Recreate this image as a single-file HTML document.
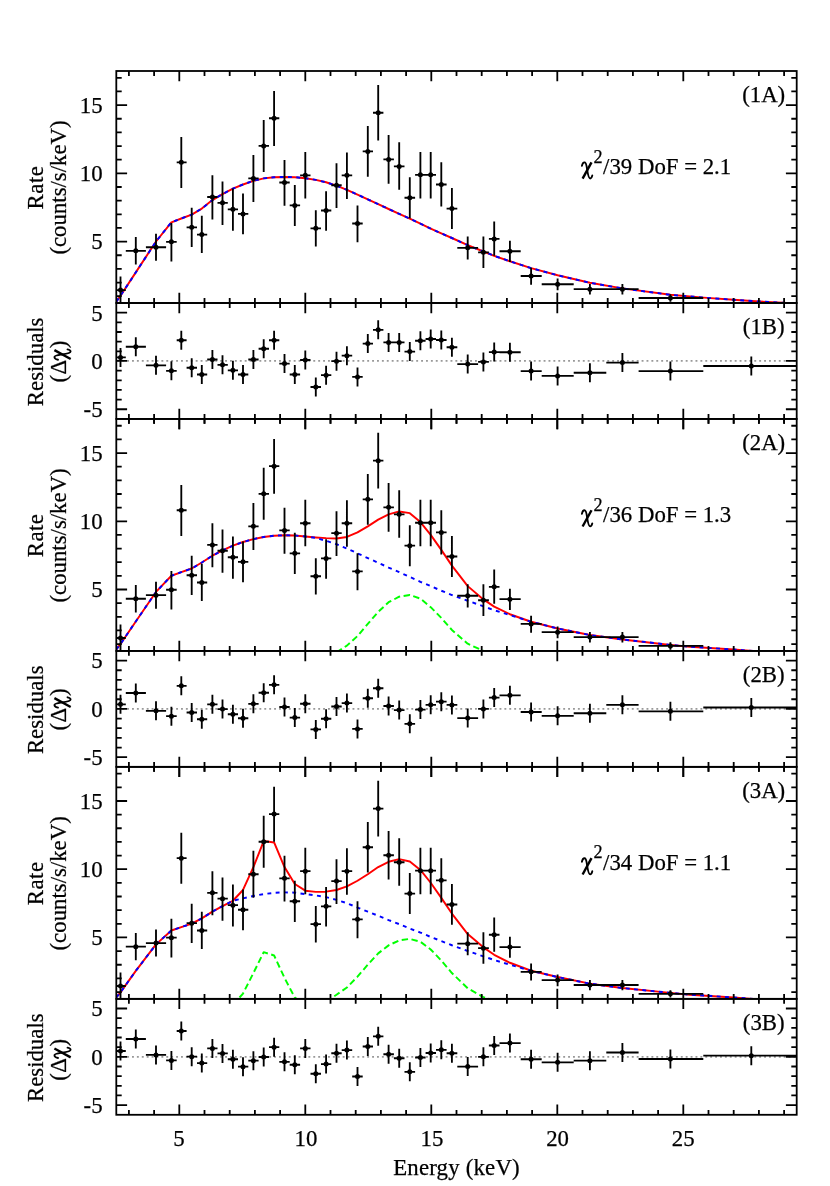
<!DOCTYPE html>
<html><head><meta charset="utf-8"><title>Spectral fits</title>
<style>
html,body{margin:0;padding:0;background:#fff}
svg{display:block;will-change:transform}
text{font-family:"Liberation Serif",serif;font-size:22.8px;fill:#000;stroke:#000;stroke-width:0.25px}
</style></head><body>
<svg width="830" height="1186" viewBox="0 0 830 1186">
<rect width="830" height="1186" fill="#fff"/>
<defs>
<clipPath id="cm0"><rect x="116.3" y="71" width="680.4" height="232"/></clipPath>
<clipPath id="cm1"><rect x="116.3" y="418.93" width="680.4" height="232"/></clipPath>
<clipPath id="cm2"><rect x="116.3" y="766.86" width="680.4" height="232"/></clipPath>
</defs>
<g clip-path="url(#cm0)">
<polyline points="116.3,301.6 120.5,295.7 135.8,272.4 156,241.5 171.4,222.3 181.3,218.5 191.7,214.6 201.8,208.6 212.4,200.1 222.5,194.1 232.9,188.6 243,184.5 253.4,180.8 263.7,178.4 274.1,177.2 284.5,177 294.8,177.2 305.3,178.2 315.8,179.9 326.1,182.3 336.5,185.7 346.9,189.8 357.5,194.6 367.8,199.4 378.2,204.2 388.6,209 399.2,213.9 409.8,218.7 420.4,223.7 430.7,228.6 441.3,233.4 451.9,238 467.7,245.2 483.4,251.5 494.2,255.8 509.9,261.3 531.1,268.1 557.6,275.3 589.9,282.8 622.4,288.4 670.4,294.8 703.6,297.6 733.7,299.8 758.9,301.5 782.8,302.7 796.7,303.6" fill="none" stroke="#f00" stroke-width="1.95" stroke-linejoin="round"/>
<polyline points="116.3,301.6 120.5,295.7 135.8,272.4 156,241.5 171.4,222.3 181.3,218.5 191.7,214.6 201.8,208.6 212.4,200.1 222.5,194.1 232.9,188.6 243,184.5 253.4,180.8 263.7,178.4 274.1,177.2 284.5,177 294.8,177.2 305.3,178.2 315.8,179.9 326.1,182.3 336.5,185.7 346.9,189.8 357.5,194.6 367.8,199.4 378.2,204.2 388.6,209 399.2,213.9 409.8,218.7 420.4,223.7 430.7,228.6 441.3,233.4 451.9,238 467.7,245.2 483.4,251.5 494.2,255.8 509.9,261.3 531.1,268.1 557.6,275.3 589.9,282.8 622.4,288.4 670.4,294.8 703.6,297.6 733.7,299.8 758.9,301.5 782.8,302.7 796.7,303.6" fill="none" stroke="#00f" stroke-width="1.95" stroke-dasharray="3.9 4.4" stroke-linejoin="round"/>
<path d="M120.5 276.6V303.6M116.3 290.1H125.8M135.8 237.1V264.5M125.8 250.8H145.9M156 233.7V260.7M145.9 247.2H166.1M171.4 223V261.6M166.1 241.8H176.7M181.3 137V188M176.7 162.3H186.6M191.7 207.8V247.1M186.6 227.3H197M201.8 215.8V253.1M197 234.6H207.2M212.4 175.3V219.4M207.2 197H217.5M222.5 181.6V224.9M217.5 202.8H227.8M232.9 188.6V230.7M227.8 209.3H238M243 193.6V234.3M238 213.9H248.3M253.4 155V202M248.3 178.4H258.6M263.7 119.9V171.9M258.6 145.9H269M274.1 91V145.9M269 118.2H279.3M284.5 159.9V205.7M279.3 182.5H289.7M294.8 184.9V226.1M289.7 205.4H300.1M305.3 151.9V198.4M300.1 175.3H310.5M315.8 210.2V246.6M310.5 228.3H321M326.1 191.2V230.7M321 210.5H331.3M336.5 163.3V208.1M331.3 185.2H341.7M346.9 152.4V198.9M341.7 175.3H352.2M357.5 205.4V242.3M352.2 223.5H362.7M367.8 126.1V176.7M362.7 151.4H373M378.2 84.9V140.6M373 112.7H383.4M388.6 135.1V183.7M383.4 159.4H393.9M399.2 142.3V189.8M393.9 166.4H404.5M409.8 177.2V218.2M404.5 197.7H415.1M420.4 151.9V198.4M415.1 174.8H425.6M430.7 151.9V198.4M425.6 174.8H436M441.3 162.3V206.6M436 184.5H446.6M451.9 188.1V229M446.6 208.6H457.3M467.7 236.4V259.5M457.3 247.8H478.1M483.4 236.4V268M478.1 252.3H488.9M494.2 221.6V255.8M488.9 238.9H499.5M509.9 240.8V262M499.5 251.2H520.7M531.1 267.7V284.7M520.7 276H541.7M557.6 278.6V290.3M541.7 284.2H573.7M589.9 284.1V294.5M573.7 289.15H606.3M622.4 284.1V294.5M606.3 289.15H638.6M670.4 294.3V301.7M638.6 298H703.3M751.3 303.5V308.5M703.3 306H796.7" stroke="#000" stroke-width="1.85" fill="none"/>
<circle cx="120.5" cy="290.1" r="2.5"/>
<circle cx="135.8" cy="250.8" r="2.5"/>
<circle cx="156" cy="247.2" r="2.5"/>
<circle cx="171.4" cy="241.8" r="2.5"/>
<circle cx="181.3" cy="162.3" r="2.5"/>
<circle cx="191.7" cy="227.3" r="2.5"/>
<circle cx="201.8" cy="234.6" r="2.5"/>
<circle cx="212.4" cy="197" r="2.5"/>
<circle cx="222.5" cy="202.8" r="2.5"/>
<circle cx="232.9" cy="209.3" r="2.5"/>
<circle cx="243" cy="213.9" r="2.5"/>
<circle cx="253.4" cy="178.4" r="2.5"/>
<circle cx="263.7" cy="145.9" r="2.5"/>
<circle cx="274.1" cy="118.2" r="2.5"/>
<circle cx="284.5" cy="182.5" r="2.5"/>
<circle cx="294.8" cy="205.4" r="2.5"/>
<circle cx="305.3" cy="175.3" r="2.5"/>
<circle cx="315.8" cy="228.3" r="2.5"/>
<circle cx="326.1" cy="210.5" r="2.5"/>
<circle cx="336.5" cy="185.2" r="2.5"/>
<circle cx="346.9" cy="175.3" r="2.5"/>
<circle cx="357.5" cy="223.5" r="2.5"/>
<circle cx="367.8" cy="151.4" r="2.5"/>
<circle cx="378.2" cy="112.7" r="2.5"/>
<circle cx="388.6" cy="159.4" r="2.5"/>
<circle cx="399.2" cy="166.4" r="2.5"/>
<circle cx="409.8" cy="197.7" r="2.5"/>
<circle cx="420.4" cy="174.8" r="2.5"/>
<circle cx="430.7" cy="174.8" r="2.5"/>
<circle cx="441.3" cy="184.5" r="2.5"/>
<circle cx="451.9" cy="208.6" r="2.5"/>
<circle cx="467.7" cy="247.8" r="2.5"/>
<circle cx="483.4" cy="252.3" r="2.5"/>
<circle cx="494.2" cy="238.9" r="2.5"/>
<circle cx="509.9" cy="251.2" r="2.5"/>
<circle cx="531.1" cy="276" r="2.5"/>
<circle cx="557.6" cy="284.2" r="2.5"/>
<circle cx="589.9" cy="289.15" r="2.5"/>
<circle cx="622.4" cy="289.15" r="2.5"/>
<circle cx="670.4" cy="298" r="2.5"/>
<circle cx="751.3" cy="306" r="2.5"/>
</g>
<line x1="117.3" y1="360.97" x2="796.7" y2="360.97" stroke="#999" stroke-width="1.7" stroke-dasharray="1.9 3"/>
<path d="M120.5 347.89V366.89M116.3 357.39H125.8M135.8 337.26V356.26M125.8 346.76H145.9M156 355.81V374.81M145.9 365.31H166.1M171.4 361.32V380.32M166.1 370.82H176.7M181.3 330.79V349.79M176.7 340.29H186.6M191.7 358.23V377.23M186.6 367.73H197M201.8 364.99V383.99M197 374.49H207.2M212.4 350.02V369.02M207.2 359.52H217.5M222.5 355.33V374.33M217.5 364.83H227.8M232.9 360.84V379.84M227.8 370.34H238M243 364.99V383.99M238 374.49H248.3M253.4 350.02V369.02M248.3 359.52H258.6M263.7 339.2V358.2M258.6 348.7H269M274.1 330.79V349.79M269 340.29H279.3M284.5 354.07V373.07M279.3 363.57H289.7M294.8 364.99V383.99M289.7 374.49H300.1M305.3 350.5V369.5M300.1 360H310.5M315.8 377.45V396.45M310.5 386.95H321M326.1 365.67V384.67M321 375.17H331.3M336.5 351.66V370.66M331.3 361.16H341.7M346.9 346.15V365.15M341.7 355.65H352.2M357.5 367.41V386.41M352.2 376.91H362.7M367.8 334.08V353.08M362.7 343.58H373M378.2 320.36V339.36M373 329.86H383.4M388.6 332.92V351.92M383.4 342.42H393.9M399.2 332.92V351.92M393.9 342.42H404.5M409.8 342.09V361.09M404.5 351.59H415.1M420.4 331.27V350.27M415.1 340.77H425.6M430.7 329.53V348.53M425.6 339.03H436M441.3 330.5V349.5M436 340H446.6M451.9 337.75V356.75M446.6 347.25H457.3M467.7 354.56V373.56M457.3 364.06H478.1M483.4 352.43V371.43M478.1 361.93H488.9M494.2 342.58V361.58M488.9 352.08H499.5M509.9 342.77V361.77M499.5 352.27H520.7M531.1 361.61V380.61M520.7 371.11H541.7M557.6 366.44V385.44M541.7 375.94H573.7M589.9 363.25V382.25M573.7 372.75H606.3M622.4 353.11V372.11M606.3 362.61H638.6M670.4 361.61V380.61M638.6 371.11H703.3M751.3 356.49V375.49M703.3 365.99H796.7" stroke="#000" stroke-width="1.85" fill="none"/>
<circle cx="120.5" cy="357.39" r="2.5"/>
<circle cx="135.8" cy="346.76" r="2.5"/>
<circle cx="156" cy="365.31" r="2.5"/>
<circle cx="171.4" cy="370.82" r="2.5"/>
<circle cx="181.3" cy="340.29" r="2.5"/>
<circle cx="191.7" cy="367.73" r="2.5"/>
<circle cx="201.8" cy="374.49" r="2.5"/>
<circle cx="212.4" cy="359.52" r="2.5"/>
<circle cx="222.5" cy="364.83" r="2.5"/>
<circle cx="232.9" cy="370.34" r="2.5"/>
<circle cx="243" cy="374.49" r="2.5"/>
<circle cx="253.4" cy="359.52" r="2.5"/>
<circle cx="263.7" cy="348.7" r="2.5"/>
<circle cx="274.1" cy="340.29" r="2.5"/>
<circle cx="284.5" cy="363.57" r="2.5"/>
<circle cx="294.8" cy="374.49" r="2.5"/>
<circle cx="305.3" cy="360" r="2.5"/>
<circle cx="315.8" cy="386.95" r="2.5"/>
<circle cx="326.1" cy="375.17" r="2.5"/>
<circle cx="336.5" cy="361.16" r="2.5"/>
<circle cx="346.9" cy="355.65" r="2.5"/>
<circle cx="357.5" cy="376.91" r="2.5"/>
<circle cx="367.8" cy="343.58" r="2.5"/>
<circle cx="378.2" cy="329.86" r="2.5"/>
<circle cx="388.6" cy="342.42" r="2.5"/>
<circle cx="399.2" cy="342.42" r="2.5"/>
<circle cx="409.8" cy="351.59" r="2.5"/>
<circle cx="420.4" cy="340.77" r="2.5"/>
<circle cx="430.7" cy="339.03" r="2.5"/>
<circle cx="441.3" cy="340" r="2.5"/>
<circle cx="451.9" cy="347.25" r="2.5"/>
<circle cx="467.7" cy="364.06" r="2.5"/>
<circle cx="483.4" cy="361.93" r="2.5"/>
<circle cx="494.2" cy="352.08" r="2.5"/>
<circle cx="509.9" cy="352.27" r="2.5"/>
<circle cx="531.1" cy="371.11" r="2.5"/>
<circle cx="557.6" cy="375.94" r="2.5"/>
<circle cx="589.9" cy="372.75" r="2.5"/>
<circle cx="622.4" cy="362.61" r="2.5"/>
<circle cx="670.4" cy="371.11" r="2.5"/>
<circle cx="751.3" cy="365.99" r="2.5"/>
<path d="M128.9 71v4.9M128.9 298.1v9.8M128.9 414.03v9.8M154.1 71v4.9M154.1 298.1v9.8M154.1 414.03v9.8M179.3 71v10.2M179.3 292.8v20.4M179.3 408.73v20.4M204.5 71v4.9M204.5 298.1v9.8M204.5 414.03v9.8M229.7 71v4.9M229.7 298.1v9.8M229.7 414.03v9.8M254.9 71v4.9M254.9 298.1v9.8M254.9 414.03v9.8M280.1 71v4.9M280.1 298.1v9.8M280.1 414.03v9.8M305.3 71v10.2M305.3 292.8v20.4M305.3 408.73v20.4M330.5 71v4.9M330.5 298.1v9.8M330.5 414.03v9.8M355.7 71v4.9M355.7 298.1v9.8M355.7 414.03v9.8M380.9 71v4.9M380.9 298.1v9.8M380.9 414.03v9.8M406.1 71v4.9M406.1 298.1v9.8M406.1 414.03v9.8M431.3 71v10.2M431.3 292.8v20.4M431.3 408.73v20.4M456.5 71v4.9M456.5 298.1v9.8M456.5 414.03v9.8M481.7 71v4.9M481.7 298.1v9.8M481.7 414.03v9.8M506.9 71v4.9M506.9 298.1v9.8M506.9 414.03v9.8M532.1 71v4.9M532.1 298.1v9.8M532.1 414.03v9.8M557.3 71v10.2M557.3 292.8v20.4M557.3 408.73v20.4M582.5 71v4.9M582.5 298.1v9.8M582.5 414.03v9.8M607.7 71v4.9M607.7 298.1v9.8M607.7 414.03v9.8M632.9 71v4.9M632.9 298.1v9.8M632.9 414.03v9.8M658.1 71v4.9M658.1 298.1v9.8M658.1 414.03v9.8M683.3 71v10.2M683.3 292.8v20.4M683.3 408.73v20.4M708.5 71v4.9M708.5 298.1v9.8M708.5 414.03v9.8M733.7 71v4.9M733.7 298.1v9.8M733.7 414.03v9.8M758.9 71v4.9M758.9 298.1v9.8M758.9 414.03v9.8M784.1 71v4.9M784.1 298.1v9.8M784.1 414.03v9.8M116.3 296.18h5.4M796.7 296.18h-5.4M116.3 282.53h5.4M796.7 282.53h-5.4M116.3 268.88h5.4M796.7 268.88h-5.4M116.3 255.24h5.4M796.7 255.24h-5.4M116.3 241.59h10.8M796.7 241.59h-10.8M116.3 227.94h5.4M796.7 227.94h-5.4M116.3 214.29h5.4M796.7 214.29h-5.4M116.3 200.65h5.4M796.7 200.65h-5.4M116.3 187h5.4M796.7 187h-5.4M116.3 173.35h10.8M796.7 173.35h-10.8M116.3 159.71h5.4M796.7 159.71h-5.4M116.3 146.06h5.4M796.7 146.06h-5.4M116.3 132.41h5.4M796.7 132.41h-5.4M116.3 118.76h5.4M796.7 118.76h-5.4M116.3 105.12h10.8M796.7 105.12h-10.8M116.3 91.47h5.4M796.7 91.47h-5.4M116.3 77.82h5.4M796.7 77.82h-5.4M116.3 409.27h10.8M796.7 409.27h-10.8M116.3 399.61h5.4M796.7 399.61h-5.4M116.3 389.95h5.4M796.7 389.95h-5.4M116.3 380.29h5.4M796.7 380.29h-5.4M116.3 370.63h5.4M796.7 370.63h-5.4M116.3 360.97h10.8M796.7 360.97h-10.8M116.3 351.3h5.4M796.7 351.3h-5.4M116.3 341.64h5.4M796.7 341.64h-5.4M116.3 331.98h5.4M796.7 331.98h-5.4M116.3 322.32h5.4M796.7 322.32h-5.4M116.3 312.66h10.8M796.7 312.66h-10.8" stroke="#000" stroke-width="1.8" fill="none"/>
<rect x="116.3" y="71" width="680.4" height="232" fill="none" stroke="#000" stroke-width="1.8"/>
<rect x="116.3" y="303" width="680.4" height="115.93" fill="none" stroke="#000" stroke-width="1.8"/>
<text x="102.6" y="249.49" text-anchor="end">5</text>
<text x="102.6" y="181.25" text-anchor="end">10</text>
<text x="102.6" y="113.02" text-anchor="end">15</text>
<text x="102.6" y="417.17" text-anchor="end">-5</text>
<text x="102.6" y="368.87" text-anchor="end">0</text>
<text x="102.6" y="320.56" text-anchor="end">5</text>
<text x="785.2" y="101.8" text-anchor="end">(1A)</text>
<text x="784.6" y="333.9" text-anchor="end">(1B)</text>
<g transform="translate(581 174.3)" fill="none" stroke="#000"><path d="M0.9,-8.4C1.4,-11 2.8,-12.1 3.9,-11.9C5.3,-11.5 5.6,-8.3 6.2,-4.3C6.9,0.2 7.5,4.2 9.2,4.2C10.3,4.2 10.9,2.8 11.3,1.1" stroke-width="1.85" stroke-linecap="round"/><path d="M10.5,-12L1.6,4.3" stroke-width="2.4"/></g>
<text x="593.4" y="162.6" style="font-size:18.2px">2</text>
<text x="603.1" y="174.3">/39 DoF = 2.1</text>
<text transform="translate(42.8 187.5) rotate(-90)" text-anchor="middle" letter-spacing="0.5">Rate</text>
<text transform="translate(65.9 187.5) rotate(-90)" text-anchor="middle">(counts/s/keV)</text>
<text transform="translate(42.9 361.87) rotate(-90)" text-anchor="middle">Residuals</text>
<g transform="translate(66.4 361.87) rotate(-90)"><text x="2.0" text-anchor="end">(<tspan dx="0.4">Δ</tspan></text><g transform="translate(1.2 0)" fill="none" stroke="#000"><path d="M0.9,-8.4C1.4,-11 2.8,-12.1 3.9,-11.9C5.3,-11.5 5.6,-8.3 6.2,-4.3C6.9,0.2 7.5,4.2 9.2,4.2C10.3,4.2 10.9,2.8 11.3,1.1" stroke-width="1.85" stroke-linecap="round"/><path d="M10.5,-12L1.6,4.3" stroke-width="2.4"/></g><text x="13.7">)</text></g>
<g clip-path="url(#cm1)">
<polyline points="336.5,652.43 346.9,645.63 357.5,636.03 367.8,623.93 378.2,611.93 388.6,602.23 399.2,596.73 409.8,595.03 420.4,598.63 430.7,607.13 441.3,617.93 451.9,629.93 467.7,643.73 483.4,650.93" fill="none" stroke="#0f0" stroke-width="1.95" stroke-dasharray="6.4 3.5" stroke-linejoin="round"/>
<polyline points="116.3,649.53 120.5,643.93 135.8,621.43 156,591.93 171.4,575.73 181.3,572.13 191.7,568.53 201.8,562.53 212.4,555.73 222.5,550.43 232.9,545.63 243,542.03 253.4,539.13 263.7,536.93 274.1,535.73 284.5,535.23 294.8,535.53 305.3,536.53 315.8,537.43 326.1,538.13 336.5,538.43 346.9,536.93 357.5,532.43 367.8,526.33 378.2,519.63 388.6,514.33 399.2,511.43 409.8,513.13 420.4,522.03 430.7,534.83 441.3,549.93 451.9,565.63 467.7,586.13 483.4,599.43 494.2,606.63 509.9,614.23 531.1,621.73 557.6,628.43 589.9,635.03 622.4,639.43 670.4,644.93 690,646.73 733.7,649.53 745.7,650.43 796.7,653.93" fill="none" stroke="#f00" stroke-width="1.95" stroke-linejoin="round"/>
<polyline points="116.3,649.53 120.5,643.93 135.8,621.43 156,591.93 171.4,575.73 181.3,572.13 191.7,568.53 201.8,562.53 212.4,555.73 222.5,550.43 232.9,545.63 243,542.03 253.4,539.13 263.7,536.93 274.1,535.73 284.5,535.23 294.8,535.53 305.3,536.53 315.8,537.93 326.1,540.83 336.5,544.23 346.9,548.53 357.5,553.33 367.8,558.13 378.2,562.73 388.6,567.53 399.2,572.13 409.8,576.93 420.4,581.83 430.7,586.13 441.3,590.73 451.9,595.03 467.7,600.73 483.4,606.33 494.2,610.23 509.9,615.03 531.1,621.73 557.6,628.43 589.9,635.03 622.4,639.43 670.4,644.93 690,646.73 733.7,649.53 745.7,650.43 796.7,653.93" fill="none" stroke="#00f" stroke-width="1.95" stroke-dasharray="3.9 4.4" stroke-linejoin="round"/>
<path d="M120.5 624.53V651.53M116.3 638.03H125.8M135.8 585.03V612.43M125.8 598.73H145.9M156 581.63V608.63M145.9 595.13H166.1M171.4 570.93V609.53M166.1 589.73H176.7M181.3 484.93V535.93M176.7 510.23H186.6M191.7 555.73V595.03M186.6 575.23H197M201.8 563.73V601.03M197 582.53H207.2M212.4 523.23V567.33M207.2 544.93H217.5M222.5 529.53V572.83M217.5 550.73H227.8M232.9 536.53V578.63M227.8 557.23H238M243 541.53V582.23M238 561.83H248.3M253.4 502.93V549.93M248.3 526.33H258.6M263.7 467.83V519.83M258.6 493.83H269M274.1 438.93V493.83M269 466.13H279.3M284.5 507.83V553.63M279.3 530.43H289.7M294.8 532.83V574.03M289.7 553.33H300.1M305.3 499.83V546.33M300.1 523.23H310.5M315.8 558.13V594.53M310.5 576.23H321M326.1 539.13V578.63M321 558.43H331.3M336.5 511.23V556.03M331.3 533.13H341.7M346.9 500.33V546.83M341.7 523.23H352.2M357.5 553.33V590.23M352.2 571.43H362.7M367.8 474.03V524.63M362.7 499.33H373M378.2 432.83V488.53M373 460.63H383.4M388.6 483.03V531.63M383.4 507.33H393.9M399.2 490.23V537.73M393.9 514.33H404.5M409.8 525.13V566.13M404.5 545.63H415.1M420.4 499.83V546.33M415.1 522.73H425.6M430.7 499.83V546.33M425.6 522.73H436M441.3 510.23V554.53M436 532.43H446.6M451.9 536.03V576.93M446.6 556.53H457.3M467.7 584.33V607.43M457.3 595.73H478.1M483.4 584.33V615.93M478.1 600.23H488.9M494.2 569.53V603.73M488.9 586.83H499.5M509.9 588.73V609.93M499.5 599.13H520.7M531.1 615.63V632.63M520.7 623.93H541.7M557.6 626.53V638.23M541.7 632.13H573.7M589.9 632.03V642.43M573.7 637.08H606.3M622.4 632.03V642.43M606.3 637.08H638.6M670.4 642.23V649.63M638.6 645.93H703.3M751.3 651.43V656.43M703.3 653.93H796.7" stroke="#000" stroke-width="1.85" fill="none"/>
<circle cx="120.5" cy="638.03" r="2.5"/>
<circle cx="135.8" cy="598.73" r="2.5"/>
<circle cx="156" cy="595.13" r="2.5"/>
<circle cx="171.4" cy="589.73" r="2.5"/>
<circle cx="181.3" cy="510.23" r="2.5"/>
<circle cx="191.7" cy="575.23" r="2.5"/>
<circle cx="201.8" cy="582.53" r="2.5"/>
<circle cx="212.4" cy="544.93" r="2.5"/>
<circle cx="222.5" cy="550.73" r="2.5"/>
<circle cx="232.9" cy="557.23" r="2.5"/>
<circle cx="243" cy="561.83" r="2.5"/>
<circle cx="253.4" cy="526.33" r="2.5"/>
<circle cx="263.7" cy="493.83" r="2.5"/>
<circle cx="274.1" cy="466.13" r="2.5"/>
<circle cx="284.5" cy="530.43" r="2.5"/>
<circle cx="294.8" cy="553.33" r="2.5"/>
<circle cx="305.3" cy="523.23" r="2.5"/>
<circle cx="315.8" cy="576.23" r="2.5"/>
<circle cx="326.1" cy="558.43" r="2.5"/>
<circle cx="336.5" cy="533.13" r="2.5"/>
<circle cx="346.9" cy="523.23" r="2.5"/>
<circle cx="357.5" cy="571.43" r="2.5"/>
<circle cx="367.8" cy="499.33" r="2.5"/>
<circle cx="378.2" cy="460.63" r="2.5"/>
<circle cx="388.6" cy="507.33" r="2.5"/>
<circle cx="399.2" cy="514.33" r="2.5"/>
<circle cx="409.8" cy="545.63" r="2.5"/>
<circle cx="420.4" cy="522.73" r="2.5"/>
<circle cx="430.7" cy="522.73" r="2.5"/>
<circle cx="441.3" cy="532.43" r="2.5"/>
<circle cx="451.9" cy="556.53" r="2.5"/>
<circle cx="467.7" cy="595.73" r="2.5"/>
<circle cx="483.4" cy="600.23" r="2.5"/>
<circle cx="494.2" cy="586.83" r="2.5"/>
<circle cx="509.9" cy="599.13" r="2.5"/>
<circle cx="531.1" cy="623.93" r="2.5"/>
<circle cx="557.6" cy="632.13" r="2.5"/>
<circle cx="589.9" cy="637.08" r="2.5"/>
<circle cx="622.4" cy="637.08" r="2.5"/>
<circle cx="670.4" cy="645.93" r="2.5"/>
<circle cx="751.3" cy="653.93" r="2.5"/>
</g>
<line x1="117.3" y1="708.89" x2="796.7" y2="708.89" stroke="#999" stroke-width="1.7" stroke-dasharray="1.9 3"/>
<path d="M120.5 694.85V713.85M116.3 704.35H125.8M135.8 683.45V702.45M125.8 692.95H145.9M156 701.33V720.33M145.9 710.83H166.1M171.4 706.64V725.64M166.1 716.14H176.7M181.3 676.31V695.31M176.7 685.81H186.6M191.7 702.97V721.97M186.6 712.47H197M201.8 709.73V728.73M197 719.23H207.2M212.4 694.85V713.85M207.2 704.35H217.5M222.5 699.59V718.59M217.5 709.09H227.8M232.9 704.71V723.71M227.8 714.21H238M243 708.77V727.77M238 718.27H248.3M253.4 694.37V713.37M248.3 703.87H258.6M263.7 683.26V702.26M258.6 692.76H269M274.1 675.34V694.34M269 684.84H279.3M284.5 697.46V716.46M279.3 706.96H289.7M294.8 708.09V727.09M289.7 717.59H300.1M305.3 694.27V713.27M300.1 703.77H310.5M315.8 719.88V738.88M310.5 729.38H321M326.1 709.25V728.25M321 718.75H331.3M336.5 696.98V715.98M331.3 706.48H341.7M346.9 693.6V712.6M341.7 703.1H352.2M357.5 719.39V738.39M352.2 728.89H362.7M367.8 688.77V707.77M362.7 698.27H373M378.2 678.72V697.72M373 688.22H383.4M388.6 696.5V715.5M383.4 706H393.9M399.2 700.55V719.55M393.9 710.05H404.5M409.8 714.37V733.37M404.5 723.87H415.1M420.4 700.07V719.07M415.1 709.57H425.6M430.7 695.34V714.34M425.6 704.84H436M441.3 692.15V711.15M436 701.65H446.6M451.9 695.43V714.43M446.6 704.93H457.3M467.7 708.57V727.57M457.3 718.07H478.1M483.4 699.39V718.39M478.1 708.89H488.9M494.2 688.09V707.09M488.9 697.59H499.5M509.9 685.87V704.87M499.5 695.37H520.7M531.1 702.49V721.49M520.7 711.99H541.7M557.6 706.35V725.35M541.7 715.85H573.7M589.9 703.74V722.74M573.7 713.24H606.3M622.4 695.34V714.34M606.3 704.84H638.6M670.4 701.81V720.81M638.6 711.31H703.3M751.3 697.95V716.95M703.3 707.45H796.7" stroke="#000" stroke-width="1.85" fill="none"/>
<circle cx="120.5" cy="704.35" r="2.5"/>
<circle cx="135.8" cy="692.95" r="2.5"/>
<circle cx="156" cy="710.83" r="2.5"/>
<circle cx="171.4" cy="716.14" r="2.5"/>
<circle cx="181.3" cy="685.81" r="2.5"/>
<circle cx="191.7" cy="712.47" r="2.5"/>
<circle cx="201.8" cy="719.23" r="2.5"/>
<circle cx="212.4" cy="704.35" r="2.5"/>
<circle cx="222.5" cy="709.09" r="2.5"/>
<circle cx="232.9" cy="714.21" r="2.5"/>
<circle cx="243" cy="718.27" r="2.5"/>
<circle cx="253.4" cy="703.87" r="2.5"/>
<circle cx="263.7" cy="692.76" r="2.5"/>
<circle cx="274.1" cy="684.84" r="2.5"/>
<circle cx="284.5" cy="706.96" r="2.5"/>
<circle cx="294.8" cy="717.59" r="2.5"/>
<circle cx="305.3" cy="703.77" r="2.5"/>
<circle cx="315.8" cy="729.38" r="2.5"/>
<circle cx="326.1" cy="718.75" r="2.5"/>
<circle cx="336.5" cy="706.48" r="2.5"/>
<circle cx="346.9" cy="703.1" r="2.5"/>
<circle cx="357.5" cy="728.89" r="2.5"/>
<circle cx="367.8" cy="698.27" r="2.5"/>
<circle cx="378.2" cy="688.22" r="2.5"/>
<circle cx="388.6" cy="706" r="2.5"/>
<circle cx="399.2" cy="710.05" r="2.5"/>
<circle cx="409.8" cy="723.87" r="2.5"/>
<circle cx="420.4" cy="709.57" r="2.5"/>
<circle cx="430.7" cy="704.84" r="2.5"/>
<circle cx="441.3" cy="701.65" r="2.5"/>
<circle cx="451.9" cy="704.93" r="2.5"/>
<circle cx="467.7" cy="718.07" r="2.5"/>
<circle cx="483.4" cy="708.89" r="2.5"/>
<circle cx="494.2" cy="697.59" r="2.5"/>
<circle cx="509.9" cy="695.37" r="2.5"/>
<circle cx="531.1" cy="711.99" r="2.5"/>
<circle cx="557.6" cy="715.85" r="2.5"/>
<circle cx="589.9" cy="713.24" r="2.5"/>
<circle cx="622.4" cy="704.84" r="2.5"/>
<circle cx="670.4" cy="711.31" r="2.5"/>
<circle cx="751.3" cy="707.45" r="2.5"/>
<path d="M128.9 418.93v4.9M128.9 646.03v9.8M128.9 761.96v9.8M154.1 418.93v4.9M154.1 646.03v9.8M154.1 761.96v9.8M179.3 418.93v10.2M179.3 640.73v20.4M179.3 756.66v20.4M204.5 418.93v4.9M204.5 646.03v9.8M204.5 761.96v9.8M229.7 418.93v4.9M229.7 646.03v9.8M229.7 761.96v9.8M254.9 418.93v4.9M254.9 646.03v9.8M254.9 761.96v9.8M280.1 418.93v4.9M280.1 646.03v9.8M280.1 761.96v9.8M305.3 418.93v10.2M305.3 640.73v20.4M305.3 756.66v20.4M330.5 418.93v4.9M330.5 646.03v9.8M330.5 761.96v9.8M355.7 418.93v4.9M355.7 646.03v9.8M355.7 761.96v9.8M380.9 418.93v4.9M380.9 646.03v9.8M380.9 761.96v9.8M406.1 418.93v4.9M406.1 646.03v9.8M406.1 761.96v9.8M431.3 418.93v10.2M431.3 640.73v20.4M431.3 756.66v20.4M456.5 418.93v4.9M456.5 646.03v9.8M456.5 761.96v9.8M481.7 418.93v4.9M481.7 646.03v9.8M481.7 761.96v9.8M506.9 418.93v4.9M506.9 646.03v9.8M506.9 761.96v9.8M532.1 418.93v4.9M532.1 646.03v9.8M532.1 761.96v9.8M557.3 418.93v10.2M557.3 640.73v20.4M557.3 756.66v20.4M582.5 418.93v4.9M582.5 646.03v9.8M582.5 761.96v9.8M607.7 418.93v4.9M607.7 646.03v9.8M607.7 761.96v9.8M632.9 418.93v4.9M632.9 646.03v9.8M632.9 761.96v9.8M658.1 418.93v4.9M658.1 646.03v9.8M658.1 761.96v9.8M683.3 418.93v10.2M683.3 640.73v20.4M683.3 756.66v20.4M708.5 418.93v4.9M708.5 646.03v9.8M708.5 761.96v9.8M733.7 418.93v4.9M733.7 646.03v9.8M733.7 761.96v9.8M758.9 418.93v4.9M758.9 646.03v9.8M758.9 761.96v9.8M784.1 418.93v4.9M784.1 646.03v9.8M784.1 761.96v9.8M116.3 644.11h5.4M796.7 644.11h-5.4M116.3 630.46h5.4M796.7 630.46h-5.4M116.3 616.81h5.4M796.7 616.81h-5.4M116.3 603.17h5.4M796.7 603.17h-5.4M116.3 589.52h10.8M796.7 589.52h-10.8M116.3 575.87h5.4M796.7 575.87h-5.4M116.3 562.22h5.4M796.7 562.22h-5.4M116.3 548.58h5.4M796.7 548.58h-5.4M116.3 534.93h5.4M796.7 534.93h-5.4M116.3 521.28h10.8M796.7 521.28h-10.8M116.3 507.64h5.4M796.7 507.64h-5.4M116.3 493.99h5.4M796.7 493.99h-5.4M116.3 480.34h5.4M796.7 480.34h-5.4M116.3 466.69h5.4M796.7 466.69h-5.4M116.3 453.05h10.8M796.7 453.05h-10.8M116.3 439.4h5.4M796.7 439.4h-5.4M116.3 425.75h5.4M796.7 425.75h-5.4M116.3 757.2h10.8M796.7 757.2h-10.8M116.3 747.54h5.4M796.7 747.54h-5.4M116.3 737.88h5.4M796.7 737.88h-5.4M116.3 728.22h5.4M796.7 728.22h-5.4M116.3 718.56h5.4M796.7 718.56h-5.4M116.3 708.89h10.8M796.7 708.89h-10.8M116.3 699.23h5.4M796.7 699.23h-5.4M116.3 689.57h5.4M796.7 689.57h-5.4M116.3 679.91h5.4M796.7 679.91h-5.4M116.3 670.25h5.4M796.7 670.25h-5.4M116.3 660.59h10.8M796.7 660.59h-10.8" stroke="#000" stroke-width="1.8" fill="none"/>
<rect x="116.3" y="418.93" width="680.4" height="232" fill="none" stroke="#000" stroke-width="1.8"/>
<rect x="116.3" y="650.93" width="680.4" height="115.93" fill="none" stroke="#000" stroke-width="1.8"/>
<text x="102.6" y="597.42" text-anchor="end">5</text>
<text x="102.6" y="529.18" text-anchor="end">10</text>
<text x="102.6" y="460.95" text-anchor="end">15</text>
<text x="102.6" y="765.1" text-anchor="end">-5</text>
<text x="102.6" y="716.79" text-anchor="end">0</text>
<text x="102.6" y="668.49" text-anchor="end">5</text>
<text x="785.2" y="449.73" text-anchor="end">(2A)</text>
<text x="784.6" y="681.83" text-anchor="end">(2B)</text>
<g transform="translate(581 522.23)" fill="none" stroke="#000"><path d="M0.9,-8.4C1.4,-11 2.8,-12.1 3.9,-11.9C5.3,-11.5 5.6,-8.3 6.2,-4.3C6.9,0.2 7.5,4.2 9.2,4.2C10.3,4.2 10.9,2.8 11.3,1.1" stroke-width="1.85" stroke-linecap="round"/><path d="M10.5,-12L1.6,4.3" stroke-width="2.4"/></g>
<text x="593.4" y="510.53" style="font-size:18.2px">2</text>
<text x="603.1" y="522.23">/36 DoF = 1.3</text>
<text transform="translate(42.8 535.43) rotate(-90)" text-anchor="middle" letter-spacing="0.5">Rate</text>
<text transform="translate(65.9 535.43) rotate(-90)" text-anchor="middle">(counts/s/keV)</text>
<text transform="translate(42.9 709.79) rotate(-90)" text-anchor="middle">Residuals</text>
<g transform="translate(66.4 709.79) rotate(-90)"><text x="2.0" text-anchor="end">(<tspan dx="0.4">Δ</tspan></text><g transform="translate(1.2 0)" fill="none" stroke="#000"><path d="M0.9,-8.4C1.4,-11 2.8,-12.1 3.9,-11.9C5.3,-11.5 5.6,-8.3 6.2,-4.3C6.9,0.2 7.5,4.2 9.2,4.2C10.3,4.2 10.9,2.8 11.3,1.1" stroke-width="1.85" stroke-linecap="round"/><path d="M10.5,-12L1.6,4.3" stroke-width="2.4"/></g><text x="13.7">)</text></g>
<g clip-path="url(#cm2)">
<polyline points="232.9,1004.86 243,993.56 253.4,973.06 263.7,952.16 274.1,955.46 284.5,977.86 294.8,997.66 305.3,1004.86" fill="none" stroke="#0f0" stroke-width="1.95" stroke-dasharray="6.4 3.5" stroke-linejoin="round"/>
<polyline points="326.1,1001.86 336.5,994.76 346.9,987.56 357.5,976.66 367.8,964.66 378.2,953.36 388.6,945.36 399.2,940.36 409.8,938.86 420.4,941.76 430.7,949.46 441.3,960.56 451.9,973.06 467.7,988.26 483.4,997.06 494.2,1000.86" fill="none" stroke="#0f0" stroke-width="1.95" stroke-dasharray="6.4 3.5" stroke-linejoin="round"/>
<polyline points="116.3,997.46 120.5,992.36 135.8,970.86 156,944.36 171.4,930.46 181.3,927.06 191.7,923.66 201.8,918.36 212.4,911.66 222.5,906.06 232.9,900.76 243,889.96 253.4,867.06 263.7,841.06 274.1,842.46 284.5,867.06 294.8,883.96 305.3,890.66 315.8,891.86 326.1,891.66 336.5,889.96 346.9,886.36 357.5,880.76 367.8,874.26 378.2,867.06 388.6,861.76 399.2,859.16 409.8,861.56 420.4,869.96 430.7,882.76 441.3,897.86 451.9,913.56 467.7,934.06 483.4,947.36 494.2,954.76 509.9,962.76 531.1,970.76 557.6,977.06 589.9,983.66 622.4,988.06 670.4,992.86 690,994.66 733.7,997.46 745.7,998.36 796.7,1001.86" fill="none" stroke="#f00" stroke-width="1.95" stroke-linejoin="round"/>
<polyline points="116.3,997.46 120.5,992.36 135.8,970.86 156,944.36 171.4,930.46 181.3,927.06 191.7,923.66 201.8,918.36 212.4,911.66 222.5,906.06 232.9,900.76 243,898.36 253.4,895.96 263.7,894.06 274.1,892.86 284.5,892.36 294.8,892.66 305.3,894.06 315.8,895.46 326.1,897.16 336.5,899.86 346.9,903.16 357.5,907.56 367.8,911.66 378.2,915.76 388.6,920.06 399.2,924.16 409.8,928.56 420.4,932.56 430.7,936.96 441.3,941.06 451.9,945.26 467.7,950.96 483.4,956.36 494.2,960.06 509.9,964.76 531.1,970.76 557.6,977.06 589.9,983.66 622.4,988.06 670.4,992.86 690,994.66 733.7,997.46 745.7,998.36 796.7,1001.86" fill="none" stroke="#00f" stroke-width="1.95" stroke-dasharray="3.9 4.4" stroke-linejoin="round"/>
<path d="M120.5 972.46V999.46M116.3 985.96H125.8M135.8 932.96V960.36M125.8 946.66H145.9M156 929.56V956.56M145.9 943.06H166.1M171.4 918.86V957.46M166.1 937.66H176.7M181.3 832.86V883.86M176.7 858.16H186.6M191.7 903.66V942.96M186.6 923.16H197M201.8 911.66V948.96M197 930.46H207.2M212.4 871.16V915.26M207.2 892.86H217.5M222.5 877.46V920.76M217.5 898.66H227.8M232.9 884.46V926.56M227.8 905.16H238M243 889.46V930.16M238 909.76H248.3M253.4 850.86V897.86M248.3 874.26H258.6M263.7 815.76V867.76M258.6 841.76H269M274.1 786.86V841.76M269 814.06H279.3M284.5 855.76V901.56M279.3 878.36H289.7M294.8 880.76V921.96M289.7 901.26H300.1M305.3 847.76V894.26M300.1 871.16H310.5M315.8 906.06V942.46M310.5 924.16H321M326.1 887.06V926.56M321 906.36H331.3M336.5 859.16V903.96M331.3 881.06H341.7M346.9 848.26V894.76M341.7 871.16H352.2M357.5 901.26V938.16M352.2 919.36H362.7M367.8 821.96V872.56M362.7 847.26H373M378.2 780.76V836.46M373 808.56H383.4M388.6 830.96V879.56M383.4 855.26H393.9M399.2 838.16V885.66M393.9 862.26H404.5M409.8 873.06V914.06M404.5 893.56H415.1M420.4 847.76V894.26M415.1 870.66H425.6M430.7 847.76V894.26M425.6 870.66H436M441.3 858.16V902.46M436 880.36H446.6M451.9 883.96V924.86M446.6 904.46H457.3M467.7 932.26V955.36M457.3 943.66H478.1M483.4 932.26V963.86M478.1 948.16H488.9M494.2 917.46V951.66M488.9 934.76H499.5M509.9 936.66V957.86M499.5 947.06H520.7M531.1 963.56V980.56M520.7 971.86H541.7M557.6 974.46V986.16M541.7 980.06H573.7M589.9 979.96V990.36M573.7 985.01H606.3M622.4 979.96V990.36M606.3 985.01H638.6M670.4 990.16V997.56M638.6 993.86H703.3M751.3 999.36V1004.36M703.3 1001.86H796.7" stroke="#000" stroke-width="1.85" fill="none"/>
<circle cx="120.5" cy="985.96" r="2.5"/>
<circle cx="135.8" cy="946.66" r="2.5"/>
<circle cx="156" cy="943.06" r="2.5"/>
<circle cx="171.4" cy="937.66" r="2.5"/>
<circle cx="181.3" cy="858.16" r="2.5"/>
<circle cx="191.7" cy="923.16" r="2.5"/>
<circle cx="201.8" cy="930.46" r="2.5"/>
<circle cx="212.4" cy="892.86" r="2.5"/>
<circle cx="222.5" cy="898.66" r="2.5"/>
<circle cx="232.9" cy="905.16" r="2.5"/>
<circle cx="243" cy="909.76" r="2.5"/>
<circle cx="253.4" cy="874.26" r="2.5"/>
<circle cx="263.7" cy="841.76" r="2.5"/>
<circle cx="274.1" cy="814.06" r="2.5"/>
<circle cx="284.5" cy="878.36" r="2.5"/>
<circle cx="294.8" cy="901.26" r="2.5"/>
<circle cx="305.3" cy="871.16" r="2.5"/>
<circle cx="315.8" cy="924.16" r="2.5"/>
<circle cx="326.1" cy="906.36" r="2.5"/>
<circle cx="336.5" cy="881.06" r="2.5"/>
<circle cx="346.9" cy="871.16" r="2.5"/>
<circle cx="357.5" cy="919.36" r="2.5"/>
<circle cx="367.8" cy="847.26" r="2.5"/>
<circle cx="378.2" cy="808.56" r="2.5"/>
<circle cx="388.6" cy="855.26" r="2.5"/>
<circle cx="399.2" cy="862.26" r="2.5"/>
<circle cx="409.8" cy="893.56" r="2.5"/>
<circle cx="420.4" cy="870.66" r="2.5"/>
<circle cx="430.7" cy="870.66" r="2.5"/>
<circle cx="441.3" cy="880.36" r="2.5"/>
<circle cx="451.9" cy="904.46" r="2.5"/>
<circle cx="467.7" cy="943.66" r="2.5"/>
<circle cx="483.4" cy="948.16" r="2.5"/>
<circle cx="494.2" cy="934.76" r="2.5"/>
<circle cx="509.9" cy="947.06" r="2.5"/>
<circle cx="531.1" cy="971.86" r="2.5"/>
<circle cx="557.6" cy="980.06" r="2.5"/>
<circle cx="589.9" cy="985.01" r="2.5"/>
<circle cx="622.4" cy="985.01" r="2.5"/>
<circle cx="670.4" cy="993.86" r="2.5"/>
<circle cx="751.3" cy="1001.86" r="2.5"/>
</g>
<line x1="117.3" y1="1056.83" x2="796.7" y2="1056.83" stroke="#999" stroke-width="1.7" stroke-dasharray="1.9 3"/>
<path d="M120.5 1041.53V1060.53M116.3 1051.03H125.8M135.8 1029.45V1048.45M125.8 1038.95H145.9M156 1045.39V1064.39M145.9 1054.89H166.1M171.4 1050.9V1069.9M166.1 1060.4H176.7M181.3 1021.53V1040.53M176.7 1031.03H186.6M191.7 1047.13V1066.13M186.6 1056.63H197M201.8 1053.6V1072.6M197 1063.1H207.2M212.4 1038.92V1057.92M207.2 1048.42H217.5M222.5 1043.94V1062.94M217.5 1053.44H227.8M232.9 1049.74V1068.74M227.8 1059.24H238M243 1057.18V1076.18M238 1066.68H248.3M253.4 1051.19V1070.19M248.3 1060.69H258.6M263.7 1047.52V1066.52M258.6 1057.02H269M274.1 1037.66V1056.66M269 1047.16H279.3M284.5 1052.35V1071.35M279.3 1061.85H289.7M294.8 1055.25V1074.25M289.7 1064.75H300.1M305.3 1038.92V1057.92M300.1 1048.42H310.5M315.8 1064.23V1083.23M310.5 1073.73H321M326.1 1054.57V1073.57M321 1064.07H331.3M336.5 1043.75V1062.75M331.3 1053.25H341.7M346.9 1040.56V1059.56M341.7 1050.06H352.2M357.5 1067.03V1086.03M352.2 1076.53H362.7M367.8 1036.99V1055.99M362.7 1046.49H373M378.2 1026.84V1045.84M373 1036.34H383.4M388.6 1044.72V1063.72M383.4 1054.22H393.9M399.2 1048.77V1067.77M393.9 1058.27H404.5M409.8 1062.3V1081.3M404.5 1071.8H415.1M420.4 1048V1067M415.1 1057.5H425.6M430.7 1043.46V1062.46M425.6 1052.96H436M441.3 1040.37V1059.37M436 1049.87H446.6M451.9 1043.75V1062.75M446.6 1053.25H457.3M467.7 1057.08V1076.08M457.3 1066.58H478.1M483.4 1047.33V1066.33M478.1 1056.83H488.9M494.2 1036.02V1055.02M488.9 1045.52H499.5M509.9 1033.61V1052.61M499.5 1043.11H520.7M531.1 1049.74V1068.74M520.7 1059.24H541.7M557.6 1052.83V1071.83M541.7 1062.33H573.7M589.9 1051.19V1070.19M573.7 1060.69H606.3M622.4 1042.98V1061.98M606.3 1052.48H638.6M670.4 1049.45V1068.45M638.6 1058.95H703.3M751.3 1046.17V1065.17M703.3 1055.67H796.7" stroke="#000" stroke-width="1.85" fill="none"/>
<circle cx="120.5" cy="1051.03" r="2.5"/>
<circle cx="135.8" cy="1038.95" r="2.5"/>
<circle cx="156" cy="1054.89" r="2.5"/>
<circle cx="171.4" cy="1060.4" r="2.5"/>
<circle cx="181.3" cy="1031.03" r="2.5"/>
<circle cx="191.7" cy="1056.63" r="2.5"/>
<circle cx="201.8" cy="1063.1" r="2.5"/>
<circle cx="212.4" cy="1048.42" r="2.5"/>
<circle cx="222.5" cy="1053.44" r="2.5"/>
<circle cx="232.9" cy="1059.24" r="2.5"/>
<circle cx="243" cy="1066.68" r="2.5"/>
<circle cx="253.4" cy="1060.69" r="2.5"/>
<circle cx="263.7" cy="1057.02" r="2.5"/>
<circle cx="274.1" cy="1047.16" r="2.5"/>
<circle cx="284.5" cy="1061.85" r="2.5"/>
<circle cx="294.8" cy="1064.75" r="2.5"/>
<circle cx="305.3" cy="1048.42" r="2.5"/>
<circle cx="315.8" cy="1073.73" r="2.5"/>
<circle cx="326.1" cy="1064.07" r="2.5"/>
<circle cx="336.5" cy="1053.25" r="2.5"/>
<circle cx="346.9" cy="1050.06" r="2.5"/>
<circle cx="357.5" cy="1076.53" r="2.5"/>
<circle cx="367.8" cy="1046.49" r="2.5"/>
<circle cx="378.2" cy="1036.34" r="2.5"/>
<circle cx="388.6" cy="1054.22" r="2.5"/>
<circle cx="399.2" cy="1058.27" r="2.5"/>
<circle cx="409.8" cy="1071.8" r="2.5"/>
<circle cx="420.4" cy="1057.5" r="2.5"/>
<circle cx="430.7" cy="1052.96" r="2.5"/>
<circle cx="441.3" cy="1049.87" r="2.5"/>
<circle cx="451.9" cy="1053.25" r="2.5"/>
<circle cx="467.7" cy="1066.58" r="2.5"/>
<circle cx="483.4" cy="1056.83" r="2.5"/>
<circle cx="494.2" cy="1045.52" r="2.5"/>
<circle cx="509.9" cy="1043.11" r="2.5"/>
<circle cx="531.1" cy="1059.24" r="2.5"/>
<circle cx="557.6" cy="1062.33" r="2.5"/>
<circle cx="589.9" cy="1060.69" r="2.5"/>
<circle cx="622.4" cy="1052.48" r="2.5"/>
<circle cx="670.4" cy="1058.95" r="2.5"/>
<circle cx="751.3" cy="1055.67" r="2.5"/>
<path d="M128.9 766.86v4.9M128.9 993.96v9.8M128.9 1109.89v4.9M154.1 766.86v4.9M154.1 993.96v9.8M154.1 1109.89v4.9M179.3 766.86v10.2M179.3 988.66v20.4M179.3 1104.59v10.2M204.5 766.86v4.9M204.5 993.96v9.8M204.5 1109.89v4.9M229.7 766.86v4.9M229.7 993.96v9.8M229.7 1109.89v4.9M254.9 766.86v4.9M254.9 993.96v9.8M254.9 1109.89v4.9M280.1 766.86v4.9M280.1 993.96v9.8M280.1 1109.89v4.9M305.3 766.86v10.2M305.3 988.66v20.4M305.3 1104.59v10.2M330.5 766.86v4.9M330.5 993.96v9.8M330.5 1109.89v4.9M355.7 766.86v4.9M355.7 993.96v9.8M355.7 1109.89v4.9M380.9 766.86v4.9M380.9 993.96v9.8M380.9 1109.89v4.9M406.1 766.86v4.9M406.1 993.96v9.8M406.1 1109.89v4.9M431.3 766.86v10.2M431.3 988.66v20.4M431.3 1104.59v10.2M456.5 766.86v4.9M456.5 993.96v9.8M456.5 1109.89v4.9M481.7 766.86v4.9M481.7 993.96v9.8M481.7 1109.89v4.9M506.9 766.86v4.9M506.9 993.96v9.8M506.9 1109.89v4.9M532.1 766.86v4.9M532.1 993.96v9.8M532.1 1109.89v4.9M557.3 766.86v10.2M557.3 988.66v20.4M557.3 1104.59v10.2M582.5 766.86v4.9M582.5 993.96v9.8M582.5 1109.89v4.9M607.7 766.86v4.9M607.7 993.96v9.8M607.7 1109.89v4.9M632.9 766.86v4.9M632.9 993.96v9.8M632.9 1109.89v4.9M658.1 766.86v4.9M658.1 993.96v9.8M658.1 1109.89v4.9M683.3 766.86v10.2M683.3 988.66v20.4M683.3 1104.59v10.2M708.5 766.86v4.9M708.5 993.96v9.8M708.5 1109.89v4.9M733.7 766.86v4.9M733.7 993.96v9.8M733.7 1109.89v4.9M758.9 766.86v4.9M758.9 993.96v9.8M758.9 1109.89v4.9M784.1 766.86v4.9M784.1 993.96v9.8M784.1 1109.89v4.9M116.3 992.04h5.4M796.7 992.04h-5.4M116.3 978.39h5.4M796.7 978.39h-5.4M116.3 964.74h5.4M796.7 964.74h-5.4M116.3 951.1h5.4M796.7 951.1h-5.4M116.3 937.45h10.8M796.7 937.45h-10.8M116.3 923.8h5.4M796.7 923.8h-5.4M116.3 910.15h5.4M796.7 910.15h-5.4M116.3 896.51h5.4M796.7 896.51h-5.4M116.3 882.86h5.4M796.7 882.86h-5.4M116.3 869.21h10.8M796.7 869.21h-10.8M116.3 855.57h5.4M796.7 855.57h-5.4M116.3 841.92h5.4M796.7 841.92h-5.4M116.3 828.27h5.4M796.7 828.27h-5.4M116.3 814.62h5.4M796.7 814.62h-5.4M116.3 800.98h10.8M796.7 800.98h-10.8M116.3 787.33h5.4M796.7 787.33h-5.4M116.3 773.68h5.4M796.7 773.68h-5.4M116.3 1105.13h10.8M796.7 1105.13h-10.8M116.3 1095.47h5.4M796.7 1095.47h-5.4M116.3 1085.81h5.4M796.7 1085.81h-5.4M116.3 1076.15h5.4M796.7 1076.15h-5.4M116.3 1066.49h5.4M796.7 1066.49h-5.4M116.3 1056.83h10.8M796.7 1056.83h-10.8M116.3 1047.16h5.4M796.7 1047.16h-5.4M116.3 1037.5h5.4M796.7 1037.5h-5.4M116.3 1027.84h5.4M796.7 1027.84h-5.4M116.3 1018.18h5.4M796.7 1018.18h-5.4M116.3 1008.52h10.8M796.7 1008.52h-10.8" stroke="#000" stroke-width="1.8" fill="none"/>
<rect x="116.3" y="766.86" width="680.4" height="232" fill="none" stroke="#000" stroke-width="1.8"/>
<rect x="116.3" y="998.86" width="680.4" height="115.93" fill="none" stroke="#000" stroke-width="1.8"/>
<text x="102.6" y="945.35" text-anchor="end">5</text>
<text x="102.6" y="877.11" text-anchor="end">10</text>
<text x="102.6" y="808.88" text-anchor="end">15</text>
<text x="102.6" y="1113.03" text-anchor="end">-5</text>
<text x="102.6" y="1064.73" text-anchor="end">0</text>
<text x="102.6" y="1016.42" text-anchor="end">5</text>
<text x="785.2" y="797.66" text-anchor="end">(3A)</text>
<text x="784.6" y="1029.76" text-anchor="end">(3B)</text>
<g transform="translate(581 870.16)" fill="none" stroke="#000"><path d="M0.9,-8.4C1.4,-11 2.8,-12.1 3.9,-11.9C5.3,-11.5 5.6,-8.3 6.2,-4.3C6.9,0.2 7.5,4.2 9.2,4.2C10.3,4.2 10.9,2.8 11.3,1.1" stroke-width="1.85" stroke-linecap="round"/><path d="M10.5,-12L1.6,4.3" stroke-width="2.4"/></g>
<text x="593.4" y="858.46" style="font-size:18.2px">2</text>
<text x="603.1" y="870.16">/34 DoF = 1.1</text>
<text transform="translate(42.8 883.36) rotate(-90)" text-anchor="middle" letter-spacing="0.5">Rate</text>
<text transform="translate(65.9 883.36) rotate(-90)" text-anchor="middle">(counts/s/keV)</text>
<text transform="translate(42.9 1057.73) rotate(-90)" text-anchor="middle">Residuals</text>
<g transform="translate(66.4 1060.13) rotate(-90)"><text x="2.0" text-anchor="end">(<tspan dx="0.4">Δ</tspan></text><g transform="translate(1.2 0)" fill="none" stroke="#000"><path d="M0.9,-8.4C1.4,-11 2.8,-12.1 3.9,-11.9C5.3,-11.5 5.6,-8.3 6.2,-4.3C6.9,0.2 7.5,4.2 9.2,4.2C10.3,4.2 10.9,2.8 11.3,1.1" stroke-width="1.85" stroke-linecap="round"/><path d="M10.5,-12L1.6,4.3" stroke-width="2.4"/></g><text x="13.7">)</text></g>
<text x="178.9" y="1145.5" text-anchor="middle">5</text>
<text x="305.9" y="1145.5" text-anchor="middle">10</text>
<text x="431.9" y="1145.5" text-anchor="middle">15</text>
<text x="557.6" y="1145.5" text-anchor="middle">20</text>
<text x="683.2" y="1145.5" text-anchor="middle">25</text>
<text x="456.5" y="1175.3" text-anchor="middle" letter-spacing="0.2">Energy (keV)</text>
</svg>
</body></html>
